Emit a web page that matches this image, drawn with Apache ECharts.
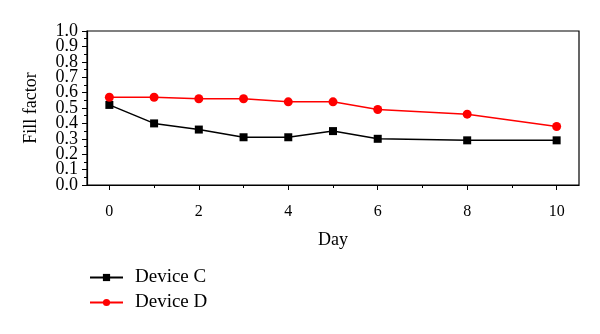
<!DOCTYPE html>
<html><head><meta charset="utf-8">
<script src="https://cdn.jsdelivr.net/npm/echarts@6/dist/echarts.min.js"></script>
<style>html,body{margin:0;padding:0;background:#fff}#c{width:600px;height:334px}</style>
</head><body><div id="c"></div>
<script>
const days = [0, 1, 2, 3, 4, 5, 6, 8, 10];
const deviceC = [0.52, 0.40, 0.36, 0.31, 0.31, 0.35, 0.30, 0.29, 0.29];
const deviceD = [0.57, 0.57, 0.56, 0.56, 0.54, 0.54, 0.49, 0.46, 0.38];
const xMajorTicks = [0, 2, 4, 6, 8, 10];
const xAllTicks = [0, 1, 2, 3, 4, 5, 6, 7, 8, 9, 10];
const yEvenLabels = [0, 0.2, 0.4, 0.6, 0.8, 1.0];
const yOddLabels = [0.1, 0.3, 0.5, 0.7, 0.9];
const seriesNames = ['Device C', 'Device D'];

const font = 'Liberation Serif';
const yLabelStyle = {margin: 9, fontFamily: font, fontSize: 18, color: '#000', formatter: v => v.toFixed(1)};
const chart = echarts.init(document.getElementById('c'), null, {renderer: 'canvas'});
chart.setOption({
  animation: false,
  backgroundColor: '#fff',
  grid: {left: 87, top: 31, width: 492, height: 154, show: true, borderColor: '#000', borderWidth: 1.2, backgroundColor: 'transparent'},
  legend: {
    orient: 'vertical', left: 89, top: 268, padding: 0, itemWidth: 33, itemHeight: 9, itemGap: 6,
    textStyle: {fontFamily: font, fontSize: 19, color: '#000', padding: [0, 0, 0, 7]},
    data: seriesNames
  },
  xAxis: [{
    type: 'value', min: -0.5, max: 10.5,
    name: 'Day', nameLocation: 'middle', nameGap: 46,
    nameTextStyle: {fontFamily: font, fontSize: 18, color: '#000'},
    axisLine: {onZero: false, lineStyle: {color: '#000', width: 1.2}},
    axisTick: {show: true, length: 3, customValues: xAllTicks, lineStyle: {color: '#000'}},
    axisLabel: {customValues: xMajorTicks, fontFamily: font, fontSize: 16, color: '#000', margin: 19},
    splitLine: {show: false}
  }, {
    type: 'value', min: -0.5, max: 10.5, position: 'bottom', gridIndex: 0,
    axisLine: {show: true, onZero: false, lineStyle: {color: 'rgba(0,0,0,0)'}},
    axisTick: {show: true, length: 5, customValues: xMajorTicks, lineStyle: {color: '#000'}},
    axisLabel: {show: false},
    splitLine: {show: false}
  }],
  yAxis: [{
    type: 'value', min: 0, max: 1, interval: 0.1, position: 'left',
    name: 'Fill factor', nameLocation: 'middle', nameGap: 47, nameRotate: 90,
    nameTextStyle: {fontFamily: font, fontSize: 18, color: '#000'},
    axisLine: {show: true, onZero: false, lineStyle: {color: '#000', width: 1.2}},
    axisTick: {show: true, length: 5, lineStyle: {color: '#000'}},
    minorTick: {show: true, splitNumber: 2, length: 3, lineStyle: {color: '#000'}},
    axisLabel: Object.assign({customValues: yEvenLabels, showMinLabel: true, showMaxLabel: true}, yLabelStyle),
    splitLine: {show: false}
  }, {
    type: 'value', min: 0, max: 1, interval: 0.1, position: 'left', gridIndex: 0,
    axisLine: {show: true, onZero: false, lineStyle: {color: 'rgba(0,0,0,0)'}},
    axisTick: {show: false},
    axisLabel: Object.assign({customValues: yOddLabels}, yLabelStyle),
    splitLine: {show: false}
  }],
  series: [{
    name: seriesNames[0], type: 'line', xAxisIndex: 0, yAxisIndex: 0,
    data: days.map((d, i) => [d, deviceC[i]]),
    symbol: 'rect', symbolSize: 8,
    lineStyle: {color: '#000', width: 1.5},
    itemStyle: {color: '#000'}
  }, {
    name: seriesNames[1], type: 'line', xAxisIndex: 0, yAxisIndex: 0,
    data: days.map((d, i) => [d, deviceD[i]]),
    symbol: 'circle', symbolSize: 9,
    lineStyle: {color: '#ff0000', width: 1.5},
    itemStyle: {color: '#ff0000'}
  }, {
    name: 'ticks', type: 'line', xAxisIndex: 1, yAxisIndex: 1, data: [], silent: true
  }]
});
</script></body></html>
